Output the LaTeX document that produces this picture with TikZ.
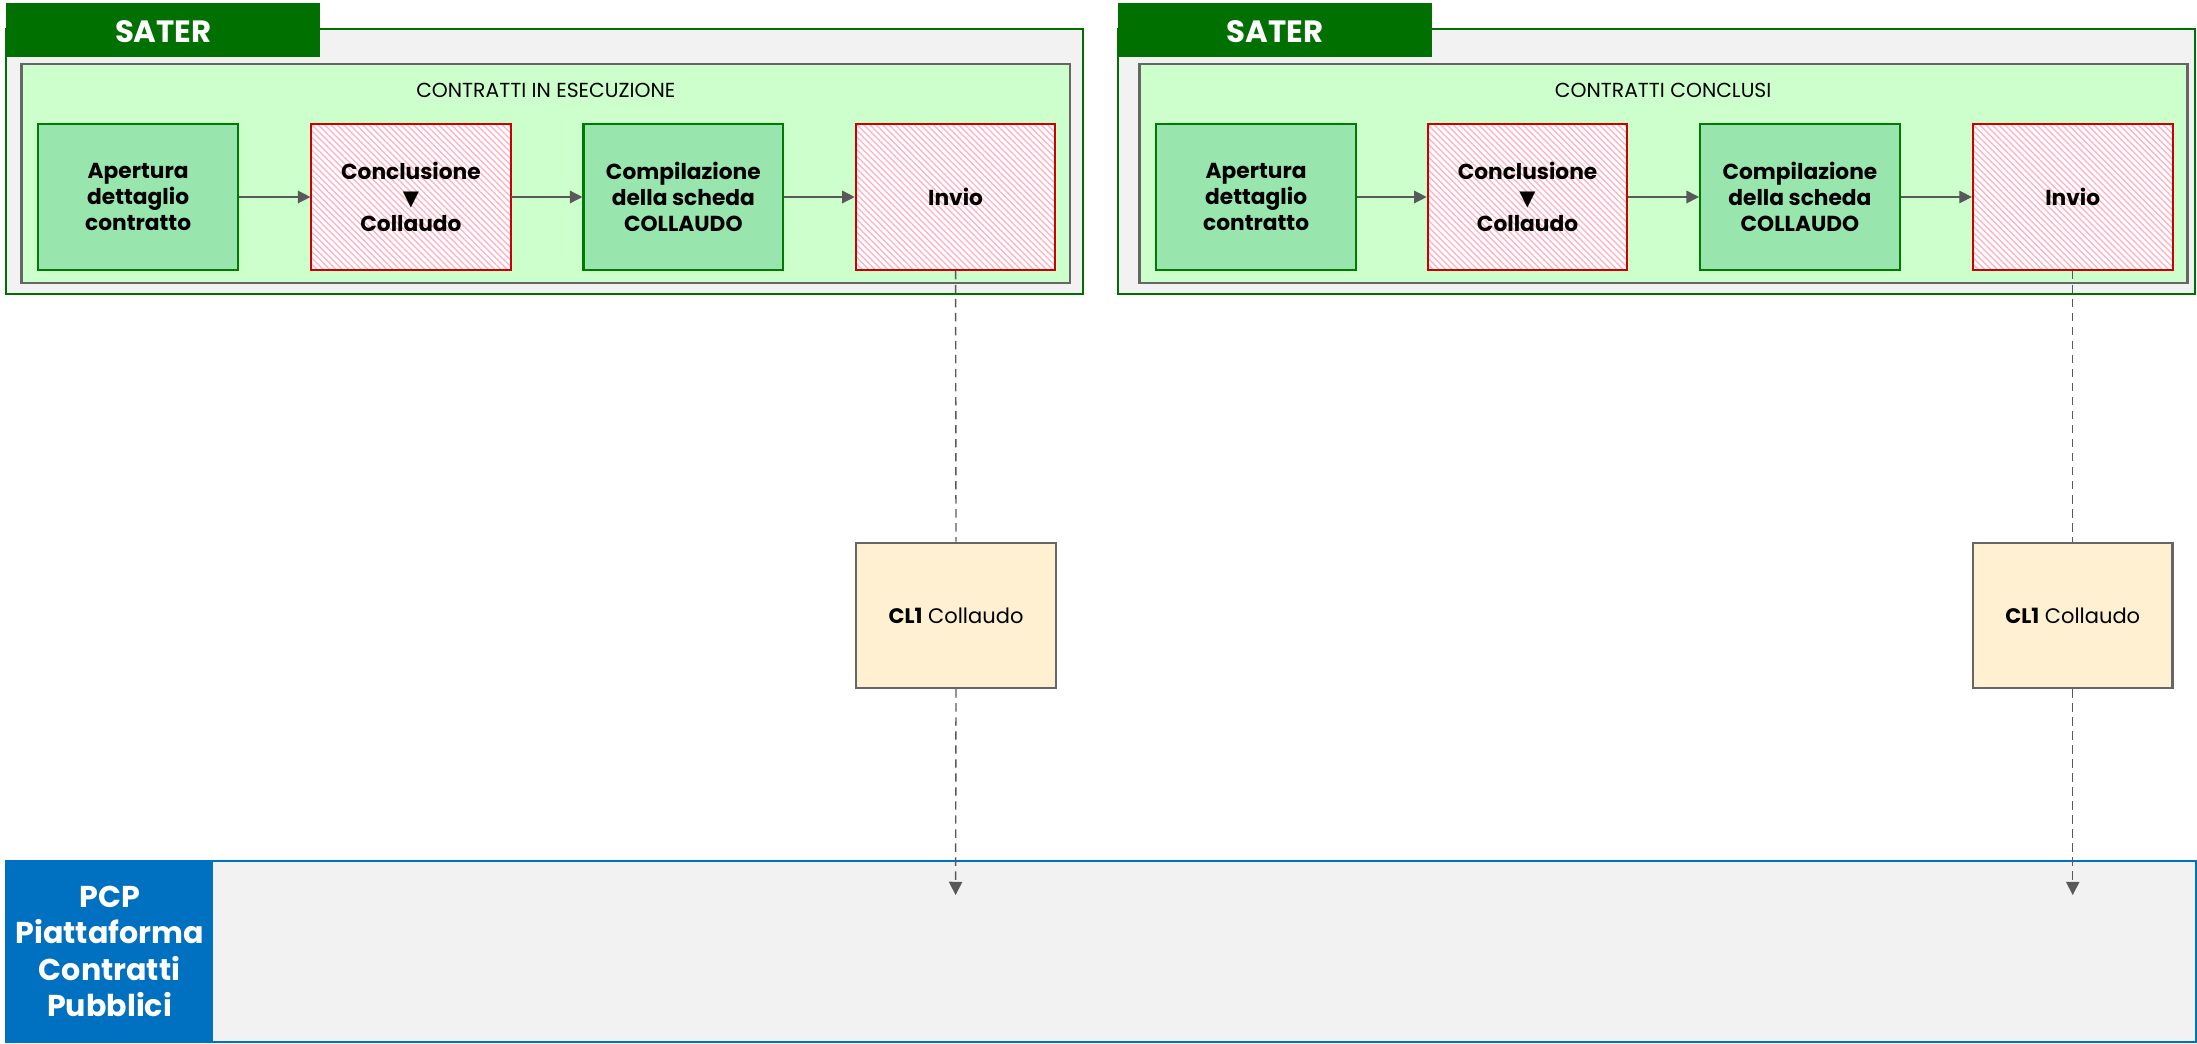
\documentclass[tikz,border=0pt]{standalone}
\usepackage{fontspec}
\setmainfont{Poppins}
\newfontfamily\symfont{DejaVu Sans}
\usetikzlibrary{arrows.meta,patterns.meta,fit}
\definecolor{satgreen}{RGB}{0,112,0}
\definecolor{outergray}{RGB}{242,242,242}
\definecolor{innergray}{RGB}{102,102,102}
\definecolor{innergreen}{RGB}{204,255,204}
\definecolor{stepgreen}{RGB}{152,230,173}
\definecolor{nodegreen}{RGB}{0,122,0}
\definecolor{stepred}{RGB}{204,0,0}
\definecolor{hatchpink}{RGB}{255,180,195}
\definecolor{arrowgray}{RGB}{89,89,89}
\definecolor{clfill}{RGB}{255,240,210}
\definecolor{pcpblue}{RGB}{0,112,192}
\begin{document}
\begin{tikzpicture}[x=1pt,y=-1pt,
  outerbox/.style={draw=satgreen, fill=outergray, line width=1.4pt, inner sep=0pt},
  tabbox/.style={fill=satgreen, inner sep=0pt},
  tabtext/.style={text=white, inner sep=0pt, font=\fontsize{22}{26}\selectfont\bfseries},
  innerbox/.style={draw=innergray, fill=innergreen, line width=2pt, inner sep=0pt},
  titletext/.style={inner sep=0pt, font=\fontsize{14.5}{17}\selectfont},
  stepbase/.style={minimum width=142.5pt, minimum height=104pt, inner sep=0pt, align=center, line width=1.5pt,
     font=\fontsize{15.5}{18.4}\selectfont\bfseries},
  greenstep/.style={stepbase, draw=nodegreen, fill=stepgreen},
  redstep/.style={stepbase, draw=stepred, preaction={fill=white},
     pattern={Lines[angle=-45,distance=3.2pt,line width=1pt]}, pattern color=hatchpink},
  flow/.style={draw=arrowgray, line width=1pt, -{Triangle[length=9pt,width=9pt]}},
  dashflow/.style={draw=arrowgray, line width=1pt, dash pattern=on 6pt off 4pt},
  clbox/.style={draw=innergray, fill=clfill, line width=1.8pt, minimum width=142.5pt, minimum height=103.6pt, inner sep=0pt,
     font=\fontsize{15}{18}\selectfont},
  pcpbox/.style={draw=pcpblue, fill=outergray, line width=1.4pt, inner sep=0pt},
  pcplabel/.style={fill=pcpblue, inner sep=0pt},
  pcptext/.style={text=white, inner sep=0pt, align=center, font=\fontsize{21.5}{25.8}\selectfont\bfseries}
]
\useasboundingbox (0,0) rectangle (1568,744.4);

% ---------- Left SATER panel ----------
\node[outerbox, fit={(4.6,20.7)(773,209.5)}] (Lout) {};
\node[tabbox, fit={(4.6,2)(228.6,41)}] (Ltab) {};
\node[tabtext] (Ltabtext) at (116.6,22.4) {SATER};
\node[innerbox, fit={(15.3,45.7)(763.7,202)}] (Lin) {};
\node[titletext] (Ltitle) at (389.5,64.3) {CONTRATTI IN ESECUZIONE};
\node[greenstep] (LA) at (98.6,140.6) {Apertura\\dettaglio\\contratto};
\node[redstep]   (LB) at (293.3,140.6) {Conclusione\\{\symfont\fontsize{15}{18.4}\selectfont ▼}\\Collaudo};
\node[greenstep] (LC) at (487.7,140.6) {Compilazione\\della scheda\\COLLAUDO};
\node[redstep]   (LD) at (682,140.6) {Invio};
\draw[flow] (LA) -- (LB);
\draw[flow] (LB) -- (LC);
\draw[flow] (LC) -- (LD);

% ---------- Right SATER panel ----------
\node[outerbox, fit={(798,20.7)(1566.5,209.5)}] (Rout) {};
\node[tabbox, fit={(798,2)(1022,41)}] (Rtab) {};
\node[tabtext] (Rtabtext) at (910,22.4) {SATER};
\node[innerbox, fit={(813,45.7)(1561,202)}] (Rin) {};
\node[titletext] (Rtitle) at (1187,64.3) {CONTRATTI CONCLUSI};
\node[greenstep] (RA) at (896.5,140.6) {Apertura\\dettaglio\\contratto};
\node[redstep]   (RB) at (1090.2,140.6) {Conclusione\\{\symfont\fontsize{15}{18.4}\selectfont ▼}\\Collaudo};
\node[greenstep] (RC) at (1284.6,140.6) {Compilazione\\della scheda\\COLLAUDO};
\node[redstep]   (RD) at (1479.3,140.6) {Invio};
\draw[flow] (RA) -- (RB);
\draw[flow] (RB) -- (RC);
\draw[flow] (RC) -- (RD);

% ---------- PCP ----------
\node[pcpbox, fit={(4.3,614.3)(1567,743.5)}] (PCP) {};
\node[pcplabel, fit={(4.3,614.3)(152,743.5)}] (PCPlab) {};
\node[pcptext] (PCPtext) at (78.2,679) {PCP\\Piattaforma\\Contratti\\Pubblici};

% ---------- CL1 boxes ----------
\node[clbox] (LCL) at (682.3,439.2) {\textbf{CL1} Collaudo};
\node[clbox] (RCL) at (1479.3,439.2) {\textbf{CL1} Collaudo};

\coordinate (Lend) at (682,638.8);
\coordinate (Rend) at (1479.3,638.8);
\draw[dashflow] (LD.south) -- (LCL.north);
\draw[dashflow] (RD.south) -- (RCL.north);
\draw[dashflow, -{Triangle[length=9.5pt,width=9.5pt]}] (LCL.south) -- (Lend);
\draw[dashflow, -{Triangle[length=9.5pt,width=9.5pt]}] (RCL.south) -- (Rend);
\end{tikzpicture}
\end{document}
